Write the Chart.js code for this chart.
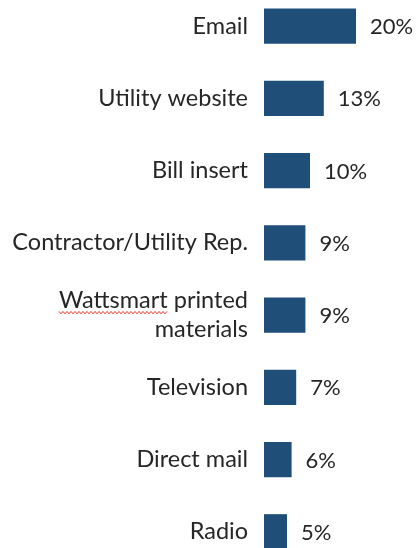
<!DOCTYPE html>
<html>
<head>
<meta charset="utf-8">
<script src="https://cdn.jsdelivr.net/npm/chart.js@4"></script>
<style>
  html, body { margin: 0; padding: 0; background: #fff; overflow: hidden; }
  #wrap { position: absolute; left: 0; top: -10px; width: 417px; height: 578px; }
</style>
</head>
<body>
<div id="wrap"><canvas id="myChart" width="417" height="578"></canvas></div>
<script>
const channels = [
  'Email',
  'Utility website',
  'Bill insert',
  'Contractor/Utility Rep.',
  ['Wattsmart printed', 'materials'],
  'Television',
  'Direct mail',
  'Radio'
]
const shares = [20, 13, 10, 9, 9, 7, 6, 5]

const textColor = '#262626'
const labelFont = { family: 'Lato', size: 23.5 }
const valueFont = { family: 'Lato', size: 22 }

// percent text to the right of each bar
const valueLabels = {
  id: 'valueLabels',
  afterDatasetsDraw(chart) {
    const ctx = chart.ctx
    const meta = chart.getDatasetMeta(0)
    ctx.save()
    ctx.font = valueFont.size + 'px ' + valueFont.family
    ctx.fillStyle = textColor
    ctx.textAlign = 'left'
    ctx.textBaseline = 'middle'
    meta.data.forEach(function (bar, i) {
      ctx.fillText(shares[i] + '%', bar.x + 14, bar.y + 1)
    })
    ctx.restore()
  }
}

// red spell-check squiggle under "Wattsmart"
const squiggle = {
  id: 'squiggle',
  afterDraw(chart) {
    const ctx = chart.ctx
    const yScale = chart.scales.y
    const idx = 4
    const right = chart.chartArea.left - 16
    ctx.save()
    ctx.font = labelFont.size + 'px ' + labelFont.family
    const lineW = ctx.measureText(channels[idx][0]).width
    const wordW = ctx.measureText('Wattsmart').width
    const x0 = right - lineW
    const y = yScale.getPixelForTick(idx) - 14.5 + 12
    ctx.strokeStyle = '#e8342c'
    ctx.lineWidth = 1
    ctx.beginPath()
    for (let x = x0, k = 0; x <= x0 + wordW; x += 2, k++) {
      const yy = y + (k % 2 ? 1.2 : -1.2)
      if (k === 0) ctx.moveTo(x, yy)
      else ctx.lineTo(x, yy)
    }
    ctx.stroke()
    ctx.restore()
  }
}

const data = {
  labels: channels,
  datasets: [{
    data: shares,
    backgroundColor: '#1f4e79',
    borderWidth: 0,
    categoryPercentage: 0.49,
    barPercentage: 1
  }]
}

const config = {
  type: 'bar',
  data,
  options: {
    indexAxis: 'y',
    responsive: false,
    animation: false,
    devicePixelRatio: 1,
    layout: { padding: { left: 0, right: 15, top: 0, bottom: 0 } },
    plugins: {
      legend: { display: false },
      tooltip: { enabled: false }
    },
    scales: {
      x: {
        display: false,
        min: 0,
        max: 30
      },
      y: {
        grid: { display: false, drawTicks: false },
        border: { display: false },
        ticks: {
          color: textColor,
          font: { family: labelFont.family, size: labelFont.size, lineHeight: '29px' },
          padding: 16,
          autoSkip: false
        },
        afterFit(scale) {
          // fixed label column, and no extra room above/below the bands
          scale.width = 264
          scale.paddingTop = 0
          scale.paddingBottom = 0
        }
      }
    }
  },
  plugins: [valueLabels, squiggle]
}

const myChart = new Chart(document.getElementById('myChart'), config)
</script>
</body>
</html>
